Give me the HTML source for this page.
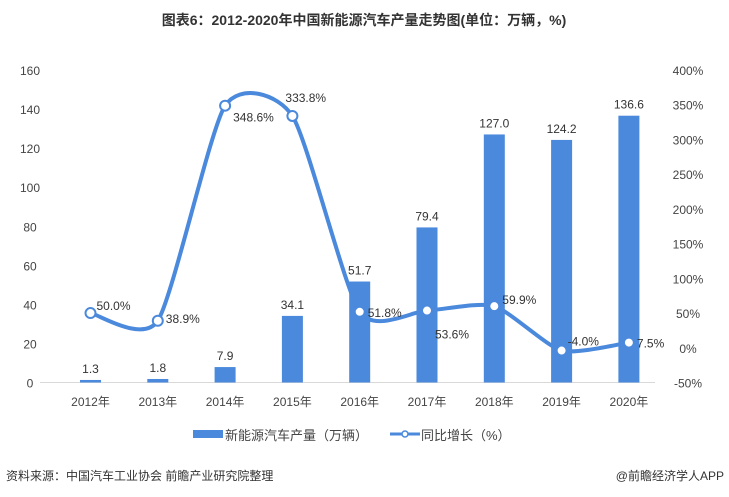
<!DOCTYPE html>
<html><head><meta charset="utf-8"><style>
body{margin:0;background:#fff;}
svg{display:block;font-family:"Liberation Sans","Noto Sans CJK SC",sans-serif;}
</style></head><body>
<svg id="c" width="729" height="497" viewBox="0 0 729 497">
<text x="364" y="25" text-anchor="middle" font-size="14" font-weight="bold" fill="#333">图表6：2012-2020年中国新能源汽车产量走势图(单位：万辆，%)</text>
<g id="axes"></g><g id="bars"></g><g id="line"></g>
<g>
<rect x="193" y="430" width="30" height="8" fill="#4a89dc"/>
<text x="225" y="440" font-size="13" fill="#444">新能源汽车产量（万辆）</text>
<line x1="390" y1="434" x2="420" y2="434" stroke="#4a89dc" stroke-width="3"/>
<circle cx="405" cy="434" r="3" fill="#fff" stroke="#4a89dc" stroke-width="1.5"/>
<text x="421" y="440" font-size="13" fill="#444">同比增长（%）</text>
</g>
<text x="6" y="480" font-size="12" fill="#333">资料来源：中国汽车工业协会 前瞻产业研究院整理</text>
<text x="724" y="480" text-anchor="end" font-size="12" fill="#333">@前瞻经济学人APP</text>
</svg>
<script>
const categories=["2012年","2013年","2014年","2015年","2016年","2017年","2018年","2019年","2020年"];
const production=[1.3,1.8,7.9,34.1,51.7,79.4,127.0,124.2,136.6];
const growth=[50.0,38.9,348.6,333.8,51.8,53.6,59.9,-4.0,7.5];
const leftTicks=[0,20,40,60,80,100,120,140,160];
const rightTicks=[-50,0,50,100,150,200,250,300,350,400];
const NS="http://www.w3.org/2000/svg";
function mk(t,a,p,txt){const e=document.createElementNS(NS,t);for(const k in a)e.setAttribute(k,a[k]);if(txt!==undefined)e.textContent=txt;p.appendChild(e);return e;}
const y0=382.5,yTop=70;
const yL=v=>y0-(v/160)*(y0-yTop);
const yR=v=>y0-((v+50)/450)*(y0-yTop);
const xC=i=>90.5+i*67.3;
const ax=document.getElementById('axes'),bg=document.getElementById('bars'),lg=document.getElementById('line');
const base=mk('line',{x1:40,x2:655,y1:y0,y2:y0,stroke:'#d9d9d9'},ax);

leftTicks.forEach(t=>{const e=mk('text',{x:30,y:yL(t)+5,'text-anchor':'middle','font-size':12,fill:'#444'},ax,String(t));
});
rightTicks.forEach(t=>{const e=mk('text',{x:688,y:yR(t)+5,'text-anchor':'middle','font-size':12,fill:'#444'},ax,t+'%');
});
categories.forEach((c,i)=>{const e=mk('text',{x:xC(i),y:406,'text-anchor':'middle','font-size':12,fill:'#444'},ax,c);
});
production.forEach((v,i)=>{const r=mk('rect',{x:xC(i)-10.5,y:yL(v),width:21,height:y0-yL(v),fill:'#4a89dc'},bg);

const t=mk('text',{x:xC(i),y:yL(v)-7,'text-anchor':'middle','font-size':12,fill:'#333'},bg,v.toFixed(1));
});
const pts=growth.map((v,i)=>[xC(i),yR(v)]);
let d='M'+pts[0][0]+','+pts[0][1];
const k=0.11;
for(let i=0;i<pts.length-1;i++){const p0=pts[Math.max(0,i-1)],p1=pts[i],p2=pts[i+1],p3=pts[Math.min(pts.length-1,i+2)];
d+=` C${p1[0]+(p2[0]-p0[0])*k},${p1[1]+(p2[1]-p0[1])*k} ${p2[0]-(p3[0]-p1[0])*k},${p2[1]-(p3[1]-p1[1])*k} ${p2[0]},${p2[1]}`;}
const path=mk('path',{d:d,fill:'none',stroke:'#4a89dc','stroke-width':4},lg);

const off=[[6,-3,'start'],[8,2,'start'],[8,16,'start'],[-7,-14,'start'],[8,5,'start'],[8,28,'start'],[8,-2,'start'],[6,-5,'start'],[8,5,'start']];
growth.forEach((v,i)=>{const c=mk('circle',{cx:pts[i][0],cy:pts[i][1],r:5,fill:'#fff',stroke:'#4a89dc','stroke-width':2},lg);

const o=off[i];const t=mk('text',{x:pts[i][0]+o[0],y:pts[i][1]+o[1],'text-anchor':o[2],'font-size':12,fill:'#333'},lg,v.toFixed(1)+'%');
});
</script>
</body></html>
